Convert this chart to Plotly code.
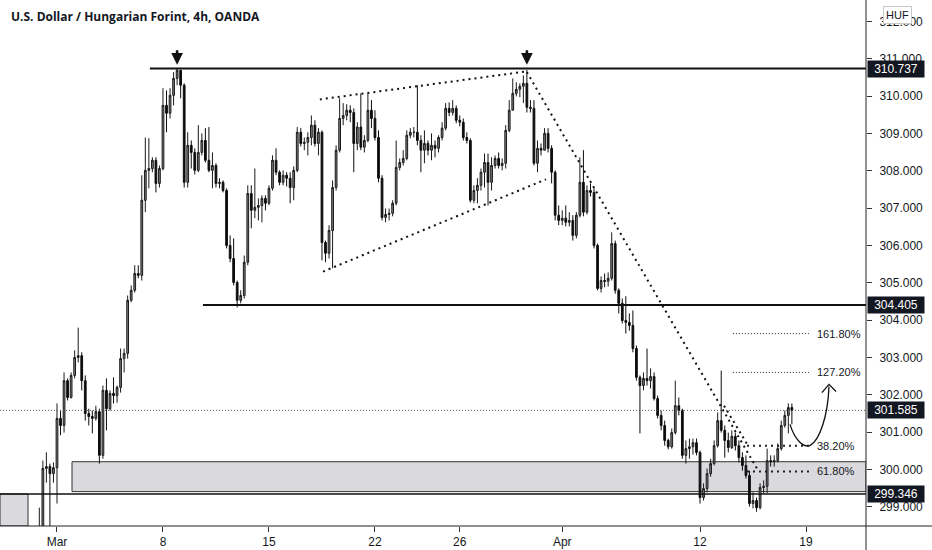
import plotly.graph_objects as go

# ---------------- data ----------------
title_text = "U.S. Dollar / Hungarian Forint, 4h, OANDA"
start_index = -5          # candle index of first bar (index 0 = first bar of Mar 1)
first_open = 298.20

close = [
    298.30, 300.03, 300.08, 299.89, 300.05,                                  # -5..-1
    301.37, 301.18, 302.38, 301.93, 302.52, 303.00, 303.05, 302.38, 301.50, 301.42,  # 0-9
    301.37, 301.55, 300.38, 302.12, 301.63, 302.04, 301.98, 302.20, 302.97, 303.11,  # 10-19
    304.53, 304.80, 305.25, 305.20, 307.21, 308.01, 308.06, 308.28, 307.66, 308.06,  # 20-29
    309.75, 309.54, 310.02, 310.47, 310.69, 310.29, 307.69, 308.68, 308.49, 308.01,  # 30-39
    308.49, 308.81, 308.28, 308.01, 308.14, 307.66, 307.69, 307.47, 306.00, 305.65,  # 40-49
    305.01, 304.53, 304.66, 305.55, 307.39, 306.94, 307.02, 307.07, 307.26, 307.13,  # 50-59
    307.53, 308.28, 307.96, 307.69, 307.88, 307.80, 307.55, 308.01, 309.03, 308.73,  # 60-69
    308.76, 308.89, 309.22, 308.73, 309.03, 306.08, 305.79, 306.40, 307.55, 308.55,  # 70-79
    309.40, 309.48, 309.62, 309.56, 308.73, 309.17, 308.63, 308.81, 309.62, 309.40,  # 80-89
    308.89, 307.80, 306.75, 306.83, 306.86, 307.13, 308.09, 308.22, 308.33, 308.95,  # 90-99
    309.03, 309.03, 308.81, 308.55, 308.73, 308.55, 308.68, 308.60, 308.89, 309.14,  # 100-109
    309.67, 309.56, 309.67, 309.35, 309.30, 308.89, 308.81, 307.21, 307.47, 307.61,  # 110-119
    307.96, 308.22, 307.69, 308.14, 308.33, 308.14, 308.20, 309.08, 309.62, 310.07,  # 120-129
    310.18, 310.26, 310.34, 309.70, 309.67, 308.20, 308.60, 308.55, 309.00, 308.60,  # 130-139
    307.96, 306.81, 306.67, 306.73, 306.62, 306.67, 306.27, 306.81, 307.69, 306.89,  # 140-149
    307.47, 307.42, 306.00, 304.85, 305.06, 305.04, 305.12, 306.05, 304.80, 304.45,  # 150-159
    303.99, 303.94, 303.86, 303.24, 302.47, 302.25, 302.44, 302.38, 302.49, 301.90,  # 160-169
    301.45, 301.18, 300.78, 300.61, 300.99, 301.71, 301.58, 300.38, 300.56, 300.61,  # 170-179
    300.72, 300.46, 299.25, 299.49, 299.89, 300.16, 300.64, 301.31, 301.05, 300.78,  # 180-189
    300.59, 300.89, 300.64, 300.32, 300.11, 299.84, 299.09, 299.17, 298.98, 299.52,  # 190-199
    299.55, 300.24, 300.21, 300.24, 300.56, 301.18, 301.45, 301.66, 301.585,         # 200-208
]

high = [
    298.98, 300.24, 300.46, 300.16, 300.19,
    301.77, 301.58, 302.60, 302.44, 302.60, 303.19, 303.80, 303.14, 302.52, 301.63,
    301.58, 301.71, 301.63, 302.25, 302.44, 302.12, 302.47, 302.25, 303.24, 303.24,
    304.66, 304.93, 305.47, 305.47, 307.88, 308.89, 308.87, 308.36, 308.36, 308.14,
    310.21, 310.15, 310.21, 310.64, 310.74, 310.69, 310.34, 309.03, 308.81, 308.60,
    309.22, 309.00, 309.14, 309.17, 308.49, 308.20, 307.80, 307.74, 307.53, 306.27,
    306.19, 305.06, 304.80, 305.73, 307.61, 307.61, 308.06, 307.26, 307.34, 307.34,
    307.61, 308.41, 308.60, 308.01, 308.01, 307.96, 307.96, 308.12, 309.17, 309.14,
    308.89, 309.03, 309.48, 309.35, 309.14, 309.08, 306.13, 306.54, 307.74, 308.68,
    309.94, 309.81, 309.78, 309.75, 309.67, 309.30, 310.07, 308.95, 310.07, 309.89,
    309.62, 309.08, 307.88, 306.99, 306.99, 307.21, 308.81, 308.33, 308.55, 309.08,
    309.14, 309.17, 310.29, 308.95, 309.08, 308.81, 309.00, 308.81, 308.95, 309.30,
    309.81, 309.83, 309.89, 309.75, 309.48, 309.40, 309.03, 308.87, 307.61, 307.80,
    308.06, 308.46, 308.46, 308.36, 308.41, 308.49, 308.33, 309.22, 309.89, 310.47,
    310.37, 310.34, 310.55, 310.70, 309.89, 309.89, 308.81, 308.73, 309.14, 309.14,
    308.68, 308.01, 307.07, 306.94, 307.07, 306.89, 306.81, 306.89, 308.36, 308.55,
    307.61, 307.66, 307.53, 306.05, 305.17, 305.25, 305.28, 306.35, 306.13, 304.85,
    304.58, 304.64, 304.18, 304.26, 303.32, 302.52, 302.60, 303.24, 302.71, 302.60,
    301.98, 301.58, 301.31, 300.83, 301.10, 302.38, 301.93, 301.63, 300.78, 300.83,
    300.83, 300.83, 300.51, 299.63, 300.03, 300.29, 300.78, 301.53, 302.65, 301.18,
    300.99, 301.05, 300.99, 300.78, 300.46, 300.38, 299.97, 299.39, 299.25, 299.63,
    299.71, 300.56, 300.38, 300.38, 300.70, 301.31, 301.58, 301.77, 301.77,
]

low = [
    297.90, 298.20, 299.65, 298.20, 299.65,
    299.09, 300.92, 300.99, 301.85, 301.90, 302.44, 302.87, 302.12, 301.31, 301.18,
    300.97, 301.31, 300.16, 300.29, 301.05, 301.58, 301.77, 301.79, 302.06, 302.60,
    302.97, 304.48, 304.74, 305.12, 305.06, 306.89, 307.53, 307.96, 307.42, 307.55,
    308.01, 309.03, 309.40, 309.75, 310.29, 309.94, 307.55, 307.55, 308.06, 307.90,
    307.96, 308.41, 308.22, 307.96, 307.53, 307.55, 307.53, 307.42, 305.92, 305.55,
    304.93, 304.34, 304.45, 304.58, 305.47, 306.46, 306.73, 306.67, 306.62, 306.94,
    307.08, 307.47, 307.88, 307.61, 307.61, 307.58, 307.13, 307.21, 307.96, 308.65,
    308.55, 308.41, 308.68, 308.65, 308.41, 305.60, 305.55, 305.65, 305.39, 307.47,
    308.49, 309.22, 309.35, 309.30, 307.96, 308.55, 308.55, 308.49, 308.76, 309.14,
    308.81, 307.69, 306.67, 306.62, 306.67, 306.78, 307.07, 308.01, 308.14, 308.28,
    308.87, 308.89, 308.68, 307.96, 308.20, 308.41, 308.28, 308.36, 308.49, 308.81,
    309.08, 309.46, 309.48, 309.27, 309.19, 308.81, 308.73, 307.15, 307.13, 307.13,
    307.47, 307.55, 307.07, 307.47, 308.06, 308.06, 308.01, 308.06, 309.03, 309.62,
    309.99, 309.97, 309.81, 309.56, 309.56, 308.14, 307.96, 308.41, 308.55, 308.49,
    307.66, 306.67, 306.54, 306.54, 306.51, 306.51, 306.13, 306.19, 306.75, 306.78,
    306.83, 307.31, 305.92, 304.80, 304.74, 304.88, 304.90, 305.06, 304.71, 304.18,
    303.91, 303.64, 303.72, 303.14, 302.38, 300.97, 302.12, 302.25, 302.17, 301.85,
    301.37, 301.05, 300.64, 300.54, 300.56, 300.94, 301.45, 300.29, 300.16, 300.29,
    300.40, 300.38, 299.09, 299.17, 299.39, 299.81, 300.11, 300.59, 300.99, 300.32,
    300.46, 300.55, 300.51, 300.19, 299.97, 299.76, 299.01, 298.96, 298.87, 298.93,
    299.36, 299.36, 300.08, 300.08, 300.19, 300.51, 301.12, 300.97, 301.21,
]

tick_index = [0, 30, 60, 90, 114, 143, 182, 212]
tick_text = ["Mar", "8", "15", "22", "26", "Apr", "12", "19"]
price_ticks = [299, 300, 301, 302, 303, 304, 305, 306, 307, 308, 309, 310, 311, 312]

resistance_high = 310.737
support_mid = 304.405
last_price = 301.585
zone_low_line = 299.346
zone_top, zone_bottom = 300.21, 299.41
fib_labels = ["161.80%", "127.20%", "38.20%", "61.80%"]
fib_prices = [303.64, 302.60, 300.64, 299.95]

# ---------------- build ----------------
idx = list(range(start_index, start_index + len(close)))
opens = [first_open] + close[:-1]
highs = [max(h, o, c) for h, o, c in zip(high, opens, close)]
lows = [min(l, o, c) for l, o, c in zip(low, opens, close)]

X0, X1 = -16.13, 228.98
Y0, Y1 = 298.489, 312.571

fig = go.Figure()
fig.add_trace(go.Candlestick(
    x=idx, open=opens, high=highs, low=lows, close=close,
    increasing=dict(fillcolor="#808080", line=dict(color="#1a1a1a", width=1)),
    decreasing=dict(fillcolor="#0d0d0d", line=dict(color="#0d0d0d", width=1)),
    whiskerwidth=0, showlegend=False, hoverinfo="skip",
))

shapes = []
# zone rectangle
shapes.append(dict(type="rect", xref="x", yref="y", x0=4.25, x1=X1, y0=zone_bottom, y1=zone_top,
                   fillcolor="#d9d9de", line=dict(color="#333333", width=1), layer="below"))
# left bottom box
shapes.append(dict(type="rect", xref="x", yref="y", x0=X0, x1=-8.2, y0=Y0, y1=zone_low_line,
                   fillcolor="#d9d9de", line=dict(color="#333333", width=1), layer="below"))
# horizontal levels
shapes.append(dict(type="line", xref="x", yref="y", x0=26.3, x1=X1, y0=resistance_high, y1=resistance_high,
                   line=dict(color="#111111", width=2)))
shapes.append(dict(type="line", xref="x", yref="y", x0=41.3, x1=X1, y0=support_mid, y1=support_mid,
                   line=dict(color="#111111", width=2)))
shapes.append(dict(type="line", xref="x", yref="y", x0=X0, x1=X1, y0=zone_low_line, y1=zone_low_line,
                   line=dict(color="#111111", width=1.5)))
shapes.append(dict(type="line", xref="x", yref="y", x0=X0, x1=X1, y0=last_price, y1=last_price,
                   line=dict(color="#555555", width=1, dash="1px,2px")))
# wedge lines
shapes.append(dict(type="line", xref="x", yref="y", x0=74.4, y0=309.91, x1=133, y1=310.66,
                   line=dict(color="#111111", width=2, dash="2px,4px")))
shapes.append(dict(type="line", xref="x", yref="y", x0=75.3, y0=305.30, x1=138.4, y1=307.77,
                   line=dict(color="#111111", width=2, dash="2px,4px")))
# descending trendline
shapes.append(dict(type="line", xref="x", yref="y", x0=133, y0=310.64, x1=198.1, y1=300.03,
                   line=dict(color="#111111", width=2, dash="2px,4px")))
shapes.append(dict(type="line", xref="x", yref="y", x0=188.8, y0=301.71, x1=195.6, y1=300.64,
                   line=dict(color="#111111", width=2, dash="2px,4px")))
# fib lines
fib_x0 = [191.3, 191.3, 195.3, 195.3]
fib_x1 = [213.1, 213.1, 214.0, 214.0]
fib_w = [1, 1, 2, 2]
fib_d = ["1px,2px", "1px,2px", "2px,4px", "2px,4px"]
for p, a, b, w, d in zip(fib_prices, fib_x0, fib_x1, fib_w, fib_d):
    shapes.append(dict(type="line", xref="x", yref="y", x0=a, x1=b, y0=p, y1=p,
                       line=dict(color="#222222", width=w, dash=d)))
# curved projection arrow
shapes.append(dict(type="path", xref="x", yref="y",
                   path="M 207.47,301.21 C 208.9,300.78 211.2,300.59 213.1,300.64 C 215.9,300.78 218.2,301.45 218.5,302.22",
                   line=dict(color="#111111", width=1.3)))
shapes.append(dict(type="path", xref="x", yref="y",
                   path="M 216.5,302.06 L 218.5,302.28 L 220.5,302.09",
                   line=dict(color="#111111", width=1.3)))
# axis frame extensions
shapes.append(dict(type="line", xref="paper", yref="paper", x0=1, x1=1, y0=-0.06, y1=1,
                   line=dict(color="#222222", width=1)))
shapes.append(dict(type="line", xref="paper", yref="paper", x0=0, x1=1.08, y0=0, y1=0,
                   line=dict(color="#222222", width=1)))

annotations = []
annotations.append(dict(xref="paper", yref="paper", x=0, y=1, xanchor="left", yanchor="top",
                        xshift=9, yshift=-6, showarrow=False,
                        text="<b>" + title_text + "</b>",
                        font=dict(family="Open Sans", size=12, color="#131722")))
for px in [34, 133]:
    annotations.append(dict(xref="x", yref="y", x=px, y=310.84, ax=0, ay=-16, showarrow=True,
                            arrowhead=2, arrowsize=0.9, arrowwidth=2.6, arrowcolor="#111111", text=""))
for lbl, p in zip(fib_labels, fib_prices):
    annotations.append(dict(xref="x", yref="y", x=214.6, y=p, xanchor="left", yanchor="middle",
                            showarrow=False, text=lbl,
                            font=dict(family="Liberation Sans", size=11, color="#131722")))
for p in [resistance_high, support_mid, last_price, zone_low_line]:
    annotations.append(dict(xref="paper", yref="y", x=1, y=p, xanchor="left", yanchor="middle",
                            showarrow=False, text="%.3f" % p, bgcolor="#131722", borderpad=1,
                            width=54, align="center",
                            xshift=1, font=dict(family="Liberation Sans", size=12, color="#ffffff")))
annotations.append(dict(xref="paper", yref="paper", x=1.036, y=0.972, xanchor="center", yanchor="middle",
                        showarrow=False, text="HUF", bgcolor="#ffffff", bordercolor="#c8c8c8",
                        borderwidth=1, borderpad=2,
                        font=dict(family="Liberation Sans", size=11, color="#131722")))

fig.update_layout(
    width=932, height=550,
    margin=dict(l=0, r=66, t=0, b=24),
    paper_bgcolor="#ffffff", plot_bgcolor="#ffffff",
    shapes=shapes, annotations=annotations,
    xaxis=dict(range=[X0, X1], tickvals=tick_index, ticktext=tick_text,
               showgrid=False, zeroline=False, rangeslider=dict(visible=False),
               ticks="outside", ticklen=5, tickcolor="#333333",
               tickfont=dict(family="Liberation Sans", size=12, color="#131722"),
               showline=False),
    yaxis=dict(range=[Y0, Y1], side="right", tickvals=price_ticks, tickformat=".3f",
               showgrid=False, zeroline=False, ticks="outside", ticklen=5, tickcolor="#333333",
               ticklabelstandoff=5,
               tickfont=dict(family="Liberation Sans", size=12, color="#131722"),
               showline=False),
)

fig.write_html("out.html", config={"displayModeBar": False},
               post_script="document.body.style.margin='0';document.body.style.overflow='hidden';")
